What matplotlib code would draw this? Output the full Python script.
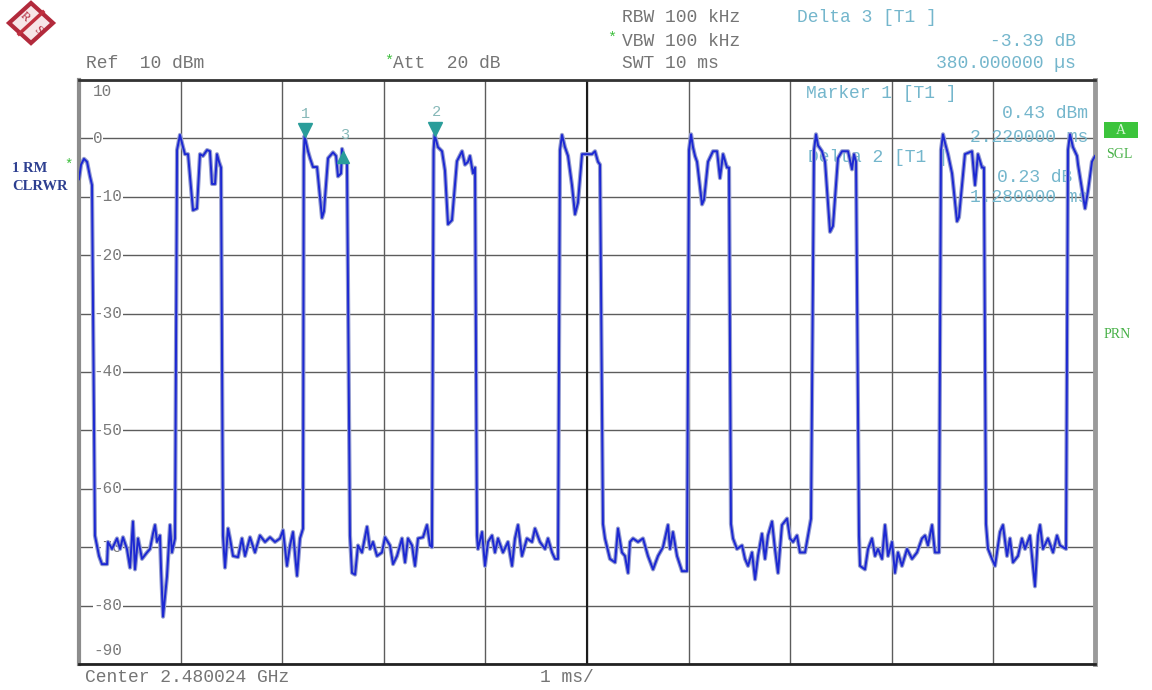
import numpy as np
import matplotlib.pyplot as plt
from matplotlib.patches import Polygon, Rectangle
from matplotlib.lines import Line2D
from matplotlib.transforms import offset_copy

plt.rcParams['font.family'] = ['Liberation Mono', 'DejaVu Sans Mono']

# trace: sweep time (ms) and level (dBm)
time_ms = [
    0.000, 0.020, 0.049, 0.079, 0.108, 0.128,                      # burst at left edge
    0.157, 0.197, 0.226, 0.276, 0.285, 0.325, 0.374, 0.404, 0.433, 0.472, 0.502, 0.531, 0.551,
    0.581, 0.620, 0.669, 0.699, 0.728, 0.748, 0.768, 0.797, 0.807, 0.827, 0.866, 0.896, 0.915, 0.945,
    0.965, 0.994, 1.024, 1.043, 1.073, 1.122, 1.161, 1.191, 1.220, 1.260, 1.289, 1.309, 1.339,
    1.358, 1.378, 1.398,
    1.417, 1.437, 1.467, 1.486, 1.516, 1.565, 1.604, 1.634, 1.683, 1.732, 1.781, 1.831, 1.880,
    1.929, 1.978, 2.008, 2.047, 2.077, 2.106, 2.146, 2.175, 2.205,
    2.212, 2.220, 2.254, 2.274, 2.303, 2.343, 2.392, 2.411, 2.451, 2.500, 2.530, 2.549, 2.579,
    2.589, 2.600, 2.638,
    2.667, 2.687, 2.717, 2.746, 2.785, 2.835, 2.864, 2.894, 2.933, 2.982, 3.012, 3.061, 3.091,
    3.130, 3.179, 3.209, 3.238, 3.278, 3.307, 3.337, 3.386, 3.425, 3.455, 3.474,
    3.490, 3.500, 3.533, 3.573, 3.602, 3.632, 3.671, 3.720, 3.770, 3.799, 3.829, 3.848, 3.878, 3.898,
    3.917, 3.927, 3.967, 3.996, 4.026, 4.065, 4.094, 4.124, 4.173, 4.222, 4.262, 4.291, 4.321,
    4.360, 4.409, 4.459, 4.488, 4.537, 4.587, 4.616, 4.656, 4.685, 4.715,
    4.734, 4.754, 4.783, 4.813, 4.852, 4.882, 4.911, 4.951, 5.010, 5.049, 5.079, 5.108, 5.128,
    5.157, 5.177, 5.226, 5.276, 5.305, 5.344, 5.374, 5.404, 5.423, 5.453, 5.502, 5.551, 5.600,
    5.650, 5.699, 5.748, 5.797, 5.817, 5.846, 5.886, 5.935, 5.984,
    6.004, 6.024, 6.043, 6.063, 6.083, 6.132, 6.152, 6.191, 6.240, 6.280, 6.309, 6.339, 6.378, 6.398,
    6.417, 6.437, 6.476, 6.526, 6.555, 6.585, 6.624, 6.654, 6.683, 6.722, 6.752, 6.781, 6.821,
    6.850, 6.880, 6.919, 6.969, 6.998, 7.028, 7.067, 7.096, 7.146, 7.175, 7.205,
    7.234, 7.254, 7.274, 7.313, 7.343, 7.392, 7.421, 7.470, 7.510, 7.569, 7.608, 7.628, 7.648,
    7.677, 7.687, 7.736, 7.766, 7.805, 7.835, 7.864, 7.904, 7.933, 7.963, 8.002, 8.031, 8.061,
    8.100, 8.150, 8.199, 8.248, 8.297, 8.327, 8.356, 8.396, 8.425, 8.465,
    8.484, 8.504, 8.524, 8.553, 8.593, 8.642, 8.661, 8.720, 8.789, 8.819, 8.848, 8.888, 8.907,
    8.927, 8.947, 8.986, 9.016, 9.065, 9.094, 9.134, 9.163, 9.193, 9.242, 9.281, 9.311, 9.360,
    9.409, 9.439, 9.459, 9.488, 9.537, 9.587, 9.626, 9.656, 9.715,
    9.734, 9.754, 9.783, 9.823, 9.833, 9.902, 9.931, 9.970, 10.000,
]
level_dbm = [
    -7.0, -4.5, -3.5, -4.0, -6.5, -8.0,
    -68.0, -71.5, -72.9, -72.9, -69.1, -70.3, -68.5, -70.3, -68.3, -70.3, -73.5, -65.6, -73.8,
    -68.5, -72.0, -70.9, -70.3, -67.7, -66.2, -69.1, -68.0, -73.5, -81.9, -75.0, -66.2, -70.9, -68.5,
    -2.0, 0.6, -1.5, -2.7, -2.7, -12.3, -12.0, -2.7, -3.0, -2.0, -2.2, -7.8, -7.8,
    -2.7, -4.0, -5.0,
    -68.0, -73.5, -66.8, -68.5, -71.5, -71.7, -68.5, -71.5, -68.3, -70.9, -68.0, -69.1, -68.3,
    -69.1, -68.5, -67.1, -73.2, -69.7, -67.4, -74.9, -68.5, -66.8,
    -3.0, 0.43, -2.2, -3.4, -4.9, -4.9, -13.6, -12.5, -3.4, -2.4, -3.0, -6.5, -6.0,
    -1.8, -2.96, -4.5,
    -68.0, -74.4, -74.7, -69.7, -70.9, -66.5, -70.3, -69.1, -71.5, -70.9, -68.3, -69.7, -72.9,
    -71.5, -68.5, -72.6, -68.5, -69.7, -73.2, -68.5, -68.3, -66.2, -69.7, -70.0,
    -2.0, 0.66, -1.5, -2.2, -5.5, -14.7, -14.0, -3.9, -2.2, -4.5, -4.0, -3.0, -6.0, -5.0,
    -68.0, -70.3, -67.4, -73.2, -69.1, -68.0, -70.9, -68.5, -70.9, -69.1, -73.2, -68.5, -66.2,
    -71.5, -68.5, -69.1, -66.8, -69.1, -70.3, -68.5, -70.9, -72.0, -72.0,
    -2.0, 0.6, -1.5, -3.0, -8.0, -13.0, -11.0, -2.7, -2.7, -2.7, -2.2, -4.0, -4.5,
    -66.0, -68.5, -72.0, -72.6, -66.8, -70.9, -71.5, -74.4, -69.1, -68.5, -69.1, -68.5, -71.5,
    -73.8, -71.5, -70.0, -66.2, -70.3, -67.4, -71.5, -74.1, -74.1,
    -2.0, 0.7, -1.5, -3.0, -4.0, -11.3, -10.5, -4.0, -2.2, -2.2, -6.8, -2.7, -5.0, -5.0,
    -66.0, -68.5, -70.3, -69.7, -72.0, -73.2, -70.9, -75.5, -71.5, -67.7, -72.0, -68.0, -65.6,
    -70.3, -74.4, -66.2, -65.1, -68.5, -69.1, -68.0, -70.9, -70.9, -68.0, -65.1,
    -2.0, 0.7, -1.2, -2.2, -4.0, -16.0, -15.0, -3.4, -2.2, -2.2, -5.3, -2.7, -4.0,
    -68.0, -73.2, -73.8, -70.3, -68.5, -71.5, -70.3, -72.0, -66.2, -71.5, -69.1, -74.4, -70.9,
    -73.2, -70.3, -72.0, -70.9, -68.5, -68.0, -69.7, -66.2, -70.9, -70.9,
    -2.0, 0.7, -0.8, -2.7, -6.0, -14.2, -13.5, -2.7, -2.2, -8.0, -2.7, -5.0, -5.0,
    -66.0, -70.3, -72.0, -73.2, -67.4, -66.2, -71.5, -68.5, -72.6, -71.5, -68.5, -70.3, -68.0,
    -76.7, -68.0, -66.2, -70.3, -68.5, -70.9, -68.0, -69.7, -70.3,
    -2.0, 0.7, -1.5, -3.0, -4.5, -12.0, -9.0, -4.0, -3.0,
]

marker_id = ['1', '2', '3']
marker_ms = [2.22, 3.50, 2.60]
marker_dbm = [0.43, 0.66, -2.96]

y_ticks = [10, 0, -10, -20, -30, -40, -50, -60, -70, -80, -90]
x_ticks = list(range(0, 11))

W, H = 1152, 690
fig = plt.figure(figsize=(W / 100, H / 100), dpi=100)
fig.patch.set_facecolor('white')


def px(x, y):
    # screen pixel position -> figure fraction
    return x / W, 1 - y / H


ax = fig.add_axes([79 / W, 1 - 664 / H, (1095 - 79) / W, (664 - 80) / H])
ax.set_xlim(0, 10)
ax.set_ylim(-90, 10)
ax.set_xticks(x_ticks)
ax.set_yticks(y_ticks)
ax.tick_params(length=0, labelbottom=False, labelleft=False)
ax.grid(True, color='#5c5c5c', lw=1.0)
ax.set_axisbelow(True)
ax.axvline(5, color='#1c1c1c', lw=1.5, zorder=0.6)
ax.spines['left'].set(color='#8c8c8c', lw=3)
ax.spines['right'].set(color='#9a9a9a', lw=3.5)
ax.spines['top'].set(color='#333333', lw=2)
ax.spines['bottom'].set(color='#222222', lw=2)

# level labels sit on the grid lines, inside the screen
for v in y_ticks:
    if v == y_ticks[0]:
        tr, va = offset_copy(ax.transData, fig, y=-3, units='points'), 'top'
    elif v == y_ticks[-1]:
        tr, va = offset_copy(ax.transData, fig, y=4, units='points'), 'bottom'
    else:
        tr, va = ax.transData, 'center'
    ax.text(0.14, v, str(v), transform=tr, va=va, ha='left', fontsize=11.5,
            color='#7a7a7a', zorder=1.5,
            bbox=dict(facecolor='white', edgecolor='none', pad=0.5))

# marker readout (drawn under the trace)
info_c = '#74b6cc'
for x, y, s, ha in [(806, 93, 'Marker 1 [T1 ]', 'left'),
                    (1088, 114, '0.43 dBm', 'right'),
                    (1088, 137, '2.220000 ms', 'right'),
                    (808, 157, 'Delta 2 [T1 ]', 'left'),
                    (1072, 177, '0.23 dB', 'right'),
                    (1088, 197, '1.280000 ms', 'right')]:
    ax.text(*px(x, y), s, transform=fig.transFigure, ha=ha, va='center',
            fontsize=13, color=info_c, zorder=1)

ax.plot(time_ms, level_dbm, color='#949cd0', lw=3.0, zorder=2, solid_joinstyle='round')
ax.plot(time_ms, level_dbm, color='#1c28d2', lw=1.4, zorder=3)

up = offset_copy(ax.transData, fig, y=4, units='points')
ax.plot(marker_ms[:2], marker_dbm[:2], 'v', color='#2a9d9a', ms=10, transform=up, zorder=4)
ax.plot(marker_ms[2:], marker_dbm[2:], '^', color='#2a9d9a', ms=8,
        transform=offset_copy(ax.transData, fig, y=-1, units='points'), zorder=4)
for m, t, v in zip(marker_id, marker_ms, marker_dbm):
    dy = 16 if m != '3' else 15
    ax.annotate(m, (t, v), xytext=(1, dy), textcoords='offset points', ha='center',
                va='center', fontsize=11, color='#86b8b8', zorder=4)

# header lines
grey = '#757575'
fig.text(*px(86, 64), 'Ref  10 dBm', fontsize=13, color=grey, va='center')
fig.text(*px(384, 61), '*', fontsize=11, color='#3cbf3c', va='center')
fig.text(*px(393, 64), 'Att  20 dB', fontsize=13, color=grey, va='center')
fig.text(*px(622, 18), 'RBW 100 kHz', fontsize=13, color=grey, va='center')
fig.text(*px(607, 38), '*', fontsize=11, color='#3cbf3c', va='center')
fig.text(*px(622, 41), 'VBW 100 kHz', fontsize=13, color=grey, va='center')
fig.text(*px(622, 63), 'SWT 10 ms', fontsize=13, color=grey, va='center')
fig.text(*px(797, 18), 'Delta 3 [T1 ]', fontsize=13, color=info_c, va='center')
fig.text(*px(1076, 41), '-3.39 dB', fontsize=13, color=info_c, va='center', ha='right')
fig.text(*px(1076, 63), '380.000000 µs', fontsize=13, color=info_c, va='center', ha='right')

# footer
fig.text(*px(85, 678), 'Center 2.480024 GHz', fontsize=13, color=grey, va='center')
fig.text(*px(540, 678), '1 ms/', fontsize=13, color=grey, va='center')

# trace info on the left
blue = '#2d3f90'
fig.text(*px(12, 168), '1 RM', fontsize=10.5, color=blue, va='center', fontweight='bold',
         family='Liberation Serif')
fig.text(*px(64, 165), '*', fontsize=10, color='#3cbf3c', va='center')
fig.text(*px(12, 187), 'CLRWR', fontsize=10.5, color=blue, va='center', fontweight='bold',
         family='Liberation Serif')

# status flags on the right
green = '#3cc43c'
fig.patches.append(Rectangle(px(1104, 138), 34 / W, 16 / H, transform=fig.transFigure,
                             facecolor=green, edgecolor='none', figure=fig))
fig.text(*px(1121, 130), 'A', fontsize=10, color='#d8f8d8', va='center', ha='center',
         family='Liberation Serif')
fig.text(*px(1106, 155), 'SGL', fontsize=10, color='#46b046', va='center',
         family='Liberation Serif')
fig.text(*px(1104, 335), 'PRN', fontsize=10, color='#46b046', va='center',
         family='Liberation Serif')

# R&S logo
diamond = [px(31, 3), px(53, 23), px(31, 43), px(9, 23)]
fig.patches.append(Polygon(diamond, closed=True, transform=fig.transFigure,
                           facecolor='#f7e6e8', edgecolor='#b22a3c', lw=3, figure=fig))
fig.lines.append(Line2D(*zip(px(43, 12), px(19, 34)), transform=fig.transFigure,
                        color='#c0303f', lw=2.5, figure=fig))
fig.text(*px(25, 17), 'R', fontsize=9, color='#b22a3c', va='center', ha='center',
         rotation=-45, family='Liberation Serif')
fig.text(*px(38, 30), 'S', fontsize=9, color='#b22a3c', va='center', ha='center',
         rotation=-45, family='Liberation Serif')

fig.savefig('out.png', dpi=100)
